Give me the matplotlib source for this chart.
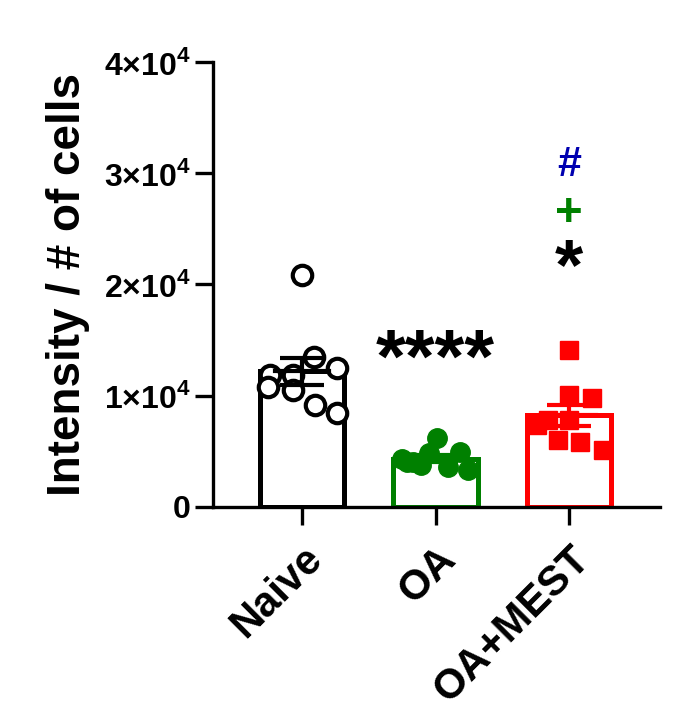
import numpy as np
import matplotlib
matplotlib.use("Agg")
import matplotlib.pyplot as plt

plt.rcParams['font.family'] = ['Liberation Sans', 'DejaVu Sans']
plt.rcParams['font.weight'] = 'bold'
plt.rcParams['mathtext.fontset'] = 'custom'
plt.rcParams['mathtext.rm'] = 'Liberation Sans:bold'
plt.rcParams['mathtext.bf'] = 'Liberation Sans:bold'

# --- data ---
groups = ['Naive', 'OA', 'OA+MEST']
colors = ['black', '#008000', '#ff0000']
naive = [20850, 13500, 12500, 11900, 11900, 10800, 10500, 9200, 8450]
oa = [6200, 4300, 4000, 4850, 3600, 4900, 3300, 3800, 4000]
oa_mest = [14100, 10100, 9800, 7400, 6000, 5850, 5100, 7800, 7800]
values = [naive, oa, oa_mest]
# horizontal scatter of the dots (category units)
jitter = [
    [0.0, 0.09, 0.26, -0.24, -0.07, -0.25, -0.07, 0.10, 0.26],
    [0.01, -0.25, -0.17, -0.05, 0.09, 0.18, 0.24, -0.11, -0.21],
    [0.0, 0.0, 0.17, -0.24, -0.08, 0.08, 0.25, -0.16, 0.0],
]
yticks = [0, 10000, 20000, 30000, 40000]
ytick_labels = ['0', r'$1{\times}10^4$', r'$2{\times}10^4$', r'$3{\times}10^4$', r'$4{\times}10^4$']

fig = plt.figure(figsize=(6.84, 7.22), dpi=100)
ax = fig.add_axes([0.311, 0.298, 0.654, 0.616])

x = np.arange(len(groups))
means = [np.mean(v) for v in values]
sems = [np.std(v, ddof=1) / np.sqrt(len(v)) for v in values]

ax.bar(x, means, width=0.63, facecolor='white', edgecolor=colors, linewidth=3.6, zorder=1)

markers = ['o', 'o', 's']
for i in range(3):
    xs = x[i] + np.array(jitter[i])
    if i == 0:
        ax.plot(xs, values[i], 'o', markerfacecolor='white', markeredgecolor='black',
                markeredgewidth=3, markersize=14, linestyle='none', zorder=3)
    else:
        ax.plot(xs, values[i], markers[i], color=colors[i], markersize=14 if i == 1 else 13,
                linestyle='none', zorder=3)
    ax.errorbar(x[i], means[i], yerr=sems[i], color=colors[i], capsize=16, capthick=3,
                elinewidth=3, zorder=4)
    ax.plot([x[i] - 0.2, x[i] + 0.2], [means[i], means[i]], color=colors[i], lw=3, zorder=4)

# significance marks
ax.text(1, 11300, '****', ha='center', va='baseline', fontsize=55, color='black')
ax.text(2, 29800, '#', ha='center', va='baseline', fontsize=31, color='#0000b0')
ax.text(2, 25300, '+', ha='center', va='baseline', fontsize=34, color='#008000')
ax.text(2, 19600, '*', ha='center', va='baseline', fontsize=52, color='black')

ax.set_xlim(-0.667, 2.68)
ax.set_ylim(0, 40000)
ax.set_yticks(yticks)
ax.set_yticklabels(ytick_labels, fontsize=23)
ax.set_xticks(x)
ax.set_xticklabels(groups, rotation=45, ha='right', rotation_mode='anchor', fontsize=30)
ax.set_ylabel('Intensity / # of cells', fontsize=33, fontweight='bold', labelpad=10)

for s in ['top', 'right']:
    ax.spines[s].set_visible(False)
for s in ['left', 'bottom']:
    ax.spines[s].set_linewidth(2.4)
ax.tick_params(axis='y', width=2.4, length=13, pad=3)
ax.tick_params(axis='x', width=2.4, length=13, pad=10)

fig.savefig('out.png', dpi=100)
